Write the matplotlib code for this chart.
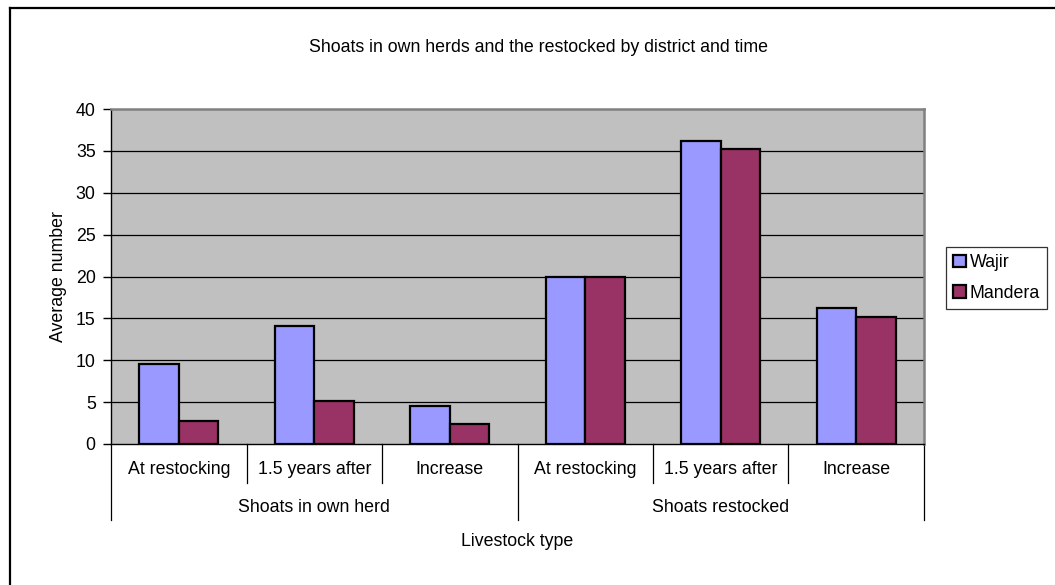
import matplotlib
matplotlib.use("Agg")
import matplotlib.pyplot as plt
import matplotlib.transforms as mtransforms
from matplotlib.lines import Line2D
import numpy as np

plt.rcParams["font.family"] = ["Liberation Sans", "DejaVu Sans"]

# chart data
groups = ["Shoats in own herd", "Shoats restocked"]
categories = ["At restocking", "1.5 years after", "Increase",
              "At restocking", "1.5 years after", "Increase"]
wajir = [9.6, 14.1, 4.5, 20.0, 36.2, 16.2]
mandera = [2.7, 5.1, 2.4, 20.0, 35.2, 15.2]
series_names = ["Wajir", "Mandera"]
y_ticks = [0, 5, 10, 15, 20, 25, 30, 35, 40]

FS = 12.8
W, H = 1055, 585
fig = plt.figure(figsize=(W / 100, H / 100), dpi=100)
fig.patch.set_facecolor("white")

# plot area in pixels
left, right, top, bottom = 111, 924, 109, 444
ax = fig.add_axes([left / W, 1 - bottom / H, (right - left) / W, (bottom - top) / H])
ax.set_facecolor("#C0C0C0")

x = np.arange(len(categories))
bw = 0.29
b1 = ax.bar(x - bw / 2, wajir, bw, color="#9999FF", edgecolor="black", linewidth=1.6,
            label=series_names[0], zorder=3)
b2 = ax.bar(x + bw / 2, mandera, bw, color="#993366", edgecolor="black", linewidth=1.6,
            label=series_names[1], zorder=3)

ax.set_xlim(-0.5, len(categories) - 0.5)
ax.set_ylim(0, 40)
ax.set_yticks(y_ticks)
ax.set_yticklabels([str(t) for t in y_ticks], fontsize=FS)
ax.tick_params(axis="y", direction="out", length=6, width=1, pad=5, color="black")
ax.set_xticks([])

# gridlines
for t in y_ticks[1:-1]:
    ax.axhline(t, color="black", linewidth=0.9, zorder=1)

ax.spines["left"].set_color("black")
ax.spines["left"].set_linewidth(1.0)
ax.spines["bottom"].set_color("black")
ax.spines["bottom"].set_linewidth(1.0)
ax.spines["top"].set_color("#808080")
ax.spines["top"].set_linewidth(1.8)
ax.spines["right"].set_color("#808080")
ax.spines["right"].set_linewidth(1.8)

ax.set_ylabel("Average number", fontsize=FS)
ax.yaxis.set_label_coords((67 - left) / (right - left), 0.5)

# multi-level category axis
ah = bottom - top
trans = mtransforms.blended_transform_factory(ax.transData, ax.transAxes)
n_per = len(categories) // len(groups)
for k in range(len(categories) + 1):
    xb = k - 0.5
    if k % n_per == 0:
        y_end = -(520 - bottom) / ah
    else:
        y_end = -(483 - bottom) / ah
    ax.add_line(Line2D([xb, xb], [0, y_end], transform=trans, color="black",
                       linewidth=0.9, clip_on=False))
for i, c in enumerate(categories):
    ax.text(i, -(470 - bottom) / ah, c, transform=trans, ha="center", va="center",
            fontsize=FS)
for g, name in enumerate(groups):
    xc = g * n_per + (n_per - 1) / 2
    ax.text(xc, -(508 - bottom) / ah, name, transform=trans, ha="center", va="center",
            fontsize=FS)
ax.text(2.5, -(541 - bottom) / ah, "Livestock type", transform=trans, ha="center",
        va="center", fontsize=FS)

# title
fig.text(539 / W, 1 - 47 / H, "Shoats in own herds and the restocked by district and time",
         ha="center", va="center", fontsize=FS)

# legend
leg = fig.legend(handles=[b1, b2], labels=series_names, loc="upper left",
                 bbox_to_anchor=(946 / W, 1 - 247 / H), borderaxespad=0,
                 fontsize=FS, frameon=True, fancybox=False, shadow=False,
                 handlelength=0.7, handleheight=0.7, handletextpad=0.2,
                 borderpad=0.42, labelspacing=0.75)
leg.get_frame().set_edgecolor("black")
leg.get_frame().set_linewidth(0.9)

# outer chart frame (cropped on right and bottom)
fig.add_artist(Line2D([10 / W, 10 / W], [0, 1 - 8 / H], color="black", linewidth=1.6,
                      transform=fig.transFigure))
fig.add_artist(Line2D([10 / W, 1], [1 - 8 / H, 1 - 8 / H], color="black", linewidth=1.6,
                      transform=fig.transFigure))

fig.savefig("out.png", dpi=100)
